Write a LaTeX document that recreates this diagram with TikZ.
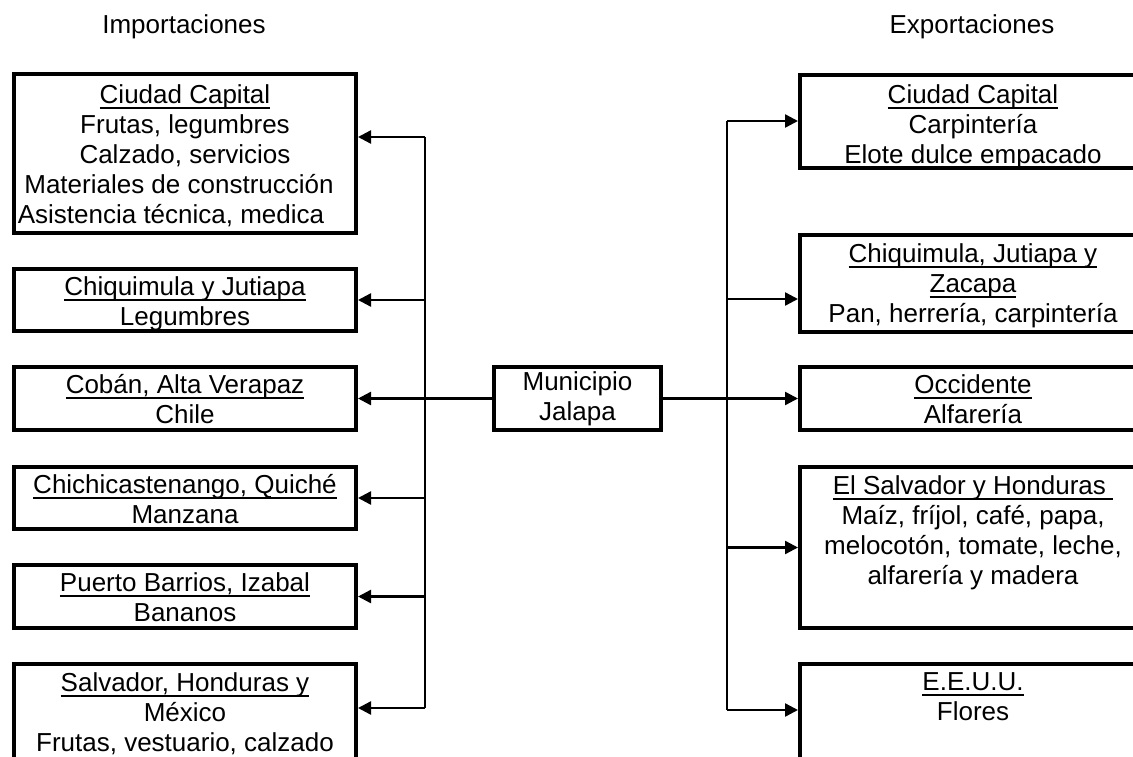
\documentclass[tikz,border=0pt]{standalone}
\usepackage{fontspec}
\setmainfont{Liberation Sans}
\usetikzlibrary{arrows.meta,positioning}
\newcommand{\uln}[1]{\setbox0\hbox{#1}\rlap{\rule[-5.5pt]{\wd0}{1.8pt}}\box0}

\tikzset{
  region/.style={draw, line width=4pt, anchor=north west, minimum width=342pt, inner sep=0pt},
  regiontxt/.style={anchor=north, align=center, inner sep=0pt, font=\fontsize{26}{30}\selectfont},
  hub/.style={draw, line width=4pt, minimum width=167pt, minimum height=63pt, align=center, inner sep=0pt, font=\fontsize{26}{30}\selectfont},
  headline/.style={font=\fontsize{26}{30}\selectfont, inner sep=0pt},
  feed/.style={line width=2.4pt, -{Triangle[length=13pt,width=13pt]}},
  bus/.style={line width=1.2pt},
}

\begin{document}
\begin{tikzpicture}[x=1pt, y=-1pt]
    \useasboundingbox (0,0) rectangle (1133,757);
    \clip (0,0) rectangle (1133,757);

    % Headings
    \node[headline] (imp) at (184,27) {Importaciones};
    \node[headline] (exp) at (972,27) {Exportaciones};

    % Centre
    \node[hub] (mun) at (577.5,398.5) {Municipio\\Jalapa};

    % Importaciones (left)
    \node[region, minimum height=159pt] (l1) at (12,72) {};
    \node[region, minimum height=62pt] (l2) at (12,267) {};
    \node[region, minimum height=63pt] (l3) at (12,365) {};
    \node[region, minimum height=62pt] (l4) at (12,465) {};
    \node[region, minimum height=63pt] (l5) at (12,563) {};
    \node[region, minimum height=140pt] (l6) at (12,662) {};

    \node[regiontxt] (l1t) at ([yshift=-12pt]l1.north) {\uln{Ciudad Capital}\\Frutas, legumbres\\Calzado, servicios\\Materiales de construcción\kern12pt\\Asistencia técnica, medica\kern28pt};
    \node[regiontxt] (l2t) at ([yshift=-9pt]l2.north) {\uln{Chiquimula y Jutiapa}\\Legumbres};
    \node[regiontxt] (l3t) at ([yshift=-9pt]l3.north) {\uln{Cobán, Alta Verapaz}\\Chile};
    \node[regiontxt] (l4t) at ([yshift=-9pt]l4.north) {\uln{Chichicastenango, Quiché}\\Manzana};
    \node[regiontxt] (l5t) at ([yshift=-9pt]l5.north) {\uln{Puerto Barrios, Izabal}\\Bananos};
    \node[regiontxt] (l6t) at ([yshift=-10pt]l6.north) {\uln{Salvador, Honduras y}\\México\\Frutas, vestuario, calzado};

    % Exportaciones (right)
    \node[region, minimum width=346pt, minimum height=93pt] (r1) at (798,73) {};
    \node[region, minimum width=346pt, minimum height=97pt] (r2) at (798,233) {};
    \node[region, minimum width=346pt, minimum height=63pt] (r3) at (798,365) {};
    \node[region, minimum width=346pt, minimum height=161pt] (r4) at (798,465) {};
    \node[region, minimum width=346pt, minimum height=140pt] (r5) at (798,662) {};

    \node[regiontxt] (r1t) at ([yshift=-11pt]r1.north) {\uln{Ciudad Capital}\\Carpintería\\Elote dulce empacado};
    \node[regiontxt] (r2t) at ([yshift=-10pt]r2.north) {\uln{Chiquimula, Jutiapa y}\\\uln{Zacapa}\\Pan, herrería, carpintería};
    \node[regiontxt] (r3t) at ([yshift=-9pt]r3.north) {\uln{Occidente}\\Alfarería};
    \node[regiontxt] (r4t) at ([yshift=-10pt]r4.north) {\uln{El Salvador y Honduras\ }\\Maíz, fríjol, café, papa,\\melocotón, tomate, leche,\\alfarería y madera};
    \node[regiontxt] (r5t) at ([yshift=-10pt]r5.north) {\uln{E.E.U.U.}\\Flores};

    % Buses
    \coordinate (la1) at (425,137);
    \coordinate (la6) at (425,708);
    \coordinate (ra1) at (727,121);
    \coordinate (ra2) at (727,299);
    \coordinate (ra5) at (727,710);
    \draw[bus] (la1) -- (la6);
    \draw[bus] (ra1) -- (ra5);

    % Connectors
    \draw[feed] (mun.west) -- (l3.east);
    \draw[feed] (mun.east) -- (r3.west);
    \draw[feed] (la1) -- (la1 -| l1.east);
    \foreach \n in {2,4,5}
        \draw[feed] (la1 |- l\n.east) -- (l\n.east);
    \draw[feed] (la6) -- (la6 -| l6.east);
    \draw[feed] (ra1) -- (ra1 -| r1.west);
    \draw[feed] (ra2) -- (ra2 -| r2.west);
    \draw[feed] (ra1 |- r4.west) -- (r4.west);
    \draw[feed] (ra5) -- (ra5 -| r5.west);
\end{tikzpicture}
\end{document}
